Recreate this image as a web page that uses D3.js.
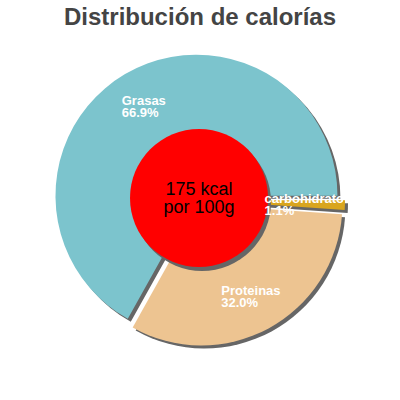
<!DOCTYPE html>
<html>
<head>
<meta charset="utf-8">
<script src="https://cdn.jsdelivr.net/npm/d3@7"></script>
<style>
  body { margin: 0; background: #fff; }
  svg { display: block; font-family: "Liberation Sans", Arial, sans-serif; }
</style>
</head>
<body>
<div id="chart"></div>
<script>
var labels = ["Grasas", "Proteinas", "carbohidratos"];
var values = [66.9, 32.0, 1.1];
var colors = ["#7cc4cd", "#edc491", "#d9a51e"];
var centerLines = ["175 kcal", "por 100g"];
var title = "Distribución de calorías";

var w = 400, h = 400;
var cx = 199, cy = 200, radius = 141, explode = 5, labelR = 104;

var svg = d3.select("#chart").append("svg")
    .attr("width", w)
    .attr("height", h);

svg.append("text")
    .attr("x", w / 2)
    .attr("y", 25)
    .attr("text-anchor", "middle")
    .style("font-size", "24px")
    .style("font-weight", "bold")
    .style("fill", "#444")
    .text(title);

var data = labels.map(function(d, i) { return {label: d, value: values[i], color: colors[i]}; });

// counter-clockwise from 3 o'clock
var pie = d3.pie()
    .sort(null)
    .startAngle(Math.PI / 2)
    .endAngle(Math.PI / 2 - 2 * Math.PI)
    .value(function(d) { return d.value; });

var arc = d3.arc().innerRadius(0).outerRadius(radius);
var arcs = pie(data);

function offset(d, r) {
  var a = (d.startAngle + d.endAngle) / 2;
  return [Math.sin(a) * r, -Math.cos(a) * r];
}

svg.append("clipPath").attr("id", "clip")
  .append("rect").attr("x", 0).attr("y", 0).attr("width", 343).attr("height", h);

var g = svg.append("g").attr("transform", "translate(" + cx + "," + cy + ")");

// shadows
g.selectAll(".shadow")
  .data(arcs)
  .enter().append("path")
    .attr("class", "shadow")
    .attr("d", arc)
    .attr("transform", function(d) { var o = offset(d, explode); return "translate(" + (o[0] + 3) + "," + (o[1] + 3) + ")"; })
    .style("fill", "#666");

g.selectAll(".slice")
  .data(arcs)
  .enter().append("path")
    .attr("class", "slice")
    .attr("d", arc)
    .attr("transform", function(d) { var o = offset(d, explode); return "translate(" + o[0] + "," + o[1] + ")"; })
    .style("fill", function(d) { return d.data.color; });

// center disc
g.append("circle")
    .attr("cx", 3).attr("cy", 2)
    .attr("r", 69)
    .style("fill", "#666");
g.append("circle")
    .attr("cx", 0).attr("cy", -2)
    .attr("r", 69)
    .style("fill", "#ff0000");

g.selectAll(".center")
  .data(centerLines)
  .enter().append("text")
    .attr("class", "center")
    .attr("x", 0)
    .attr("y", function(d, i) { return -5 + i * 18; })
    .attr("text-anchor", "middle")
    .style("font-size", "18px")
    .style("fill", "#000")
    .text(function(d) { return d; });

// labels, block centered on bisector, lines left-aligned
var lab = svg.append("g")
    .attr("clip-path", "url(#clip)")
  .append("g")
    .attr("transform", "translate(" + cx + "," + cy + ")")
  .selectAll(".lab")
  .data(arcs)
  .enter().append("g")
    .attr("class", "lab");

lab.each(function(d) {
  var el = d3.select(this);
  var o = offset(d, labelR + explode);
  var t = el.append("text")
      .style("font-size", "13px")
      .style("font-weight", "bold")
      .style("fill", "#fff");
  t.append("tspan").attr("x", 0).attr("y", 0).text(d.data.label);
  t.append("tspan").attr("x", 0).attr("y", 12).text(d.data.value.toFixed(1) + "%");
  var bw = t.node().getBBox().width;
  el.attr("transform", "translate(" + (o[0] - bw / 2) + "," + (o[1] - 1) + ")");
});
</script>
</body>
</html>
